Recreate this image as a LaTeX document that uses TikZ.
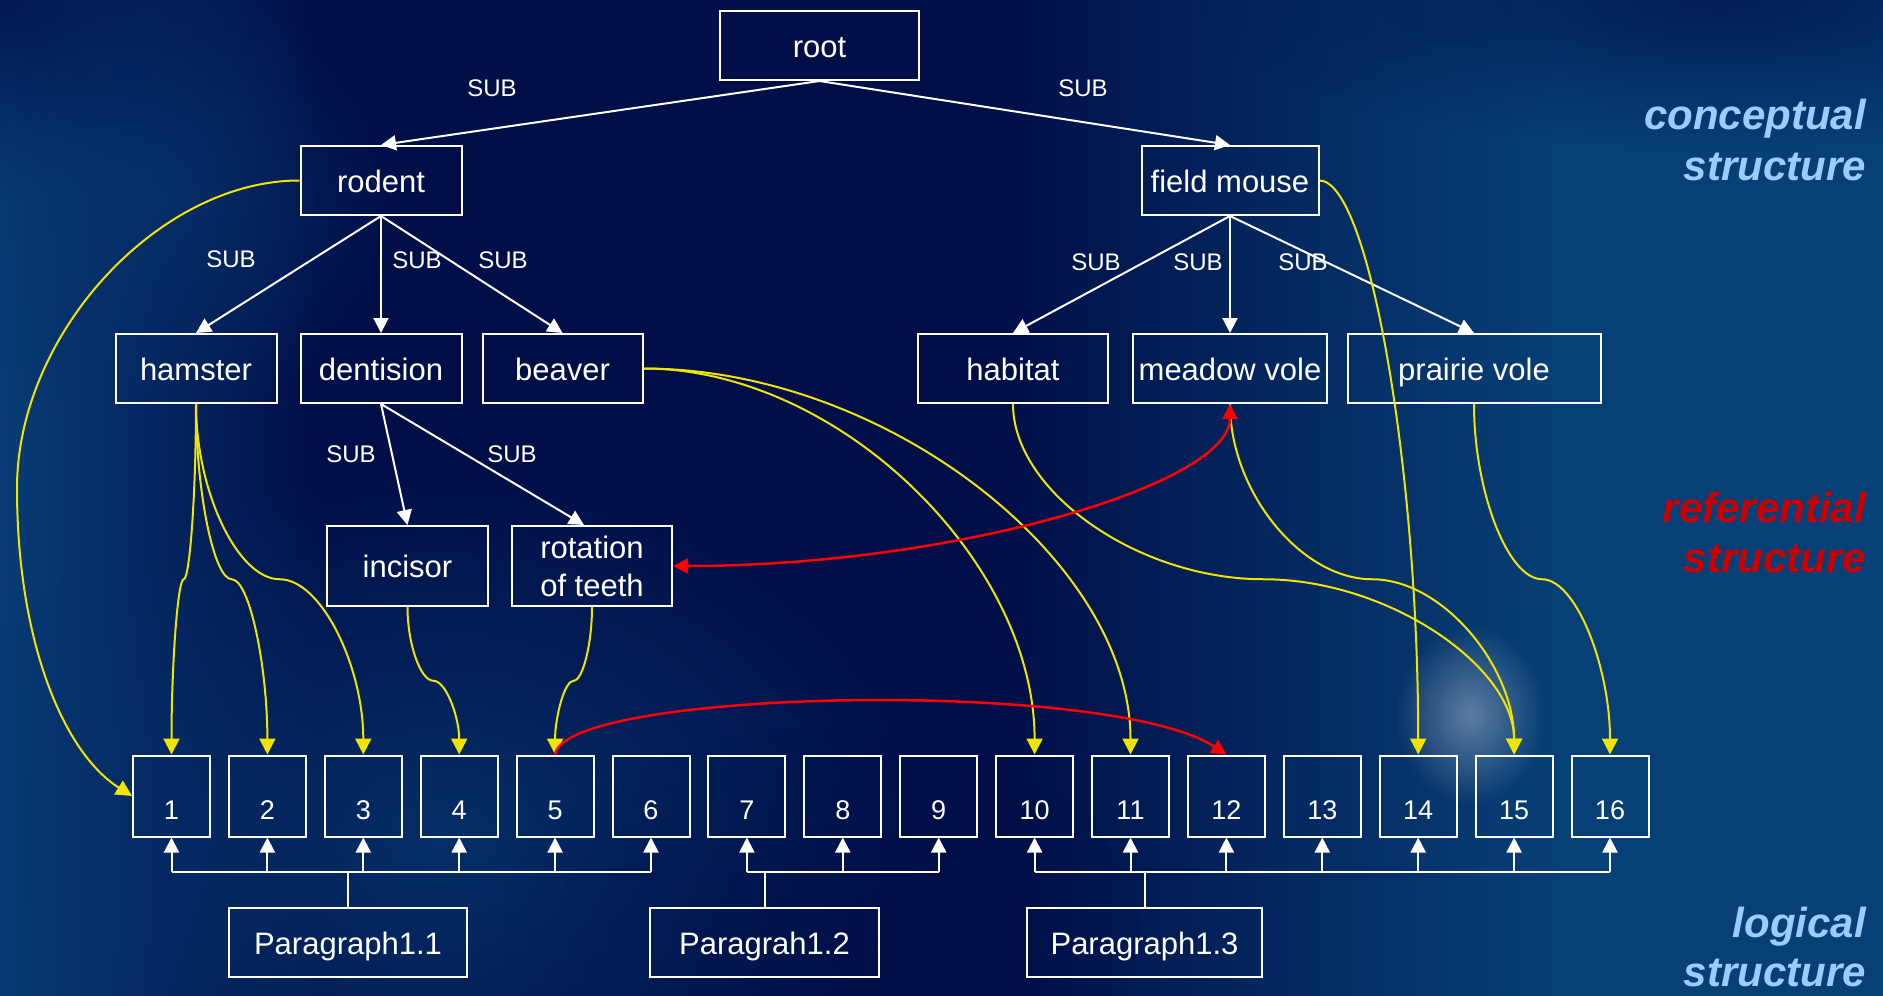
\documentclass[tikz,border=0pt]{standalone}
\usepackage{fontspec}
\setmainfont{Liberation Sans}
\usetikzlibrary{arrows.meta,calc,fadings}

\definecolor{bgdark}{RGB}{1,14,72}
\definecolor{bgedge}{RGB}{8,60,118}
\definecolor{bgright}{RGB}{7,64,118}
\definecolor{bgmid}{RGB}{6,50,106}
\definecolor{linkyellow}{RGB}{240,228,0}
\definecolor{linkred}{RGB}{255,0,0}
\definecolor{labelblue}{RGB}{153,204,255}
\definecolor{labelred}{RGB}{204,0,0}

% soft radial mask used for the background blobs and the glow
\tikzfading[name=softblob, inner color=transparent!0, outer color=transparent!100]

\begin{document}
\begin{tikzpicture}[x=1pt,y=-1pt,
  box/.style={draw=white, line width=2pt, text=white, inner sep=0pt, align=center,
    font=\fontsize{31}{38}\selectfont},
  oneline/.style={text height=23pt, text depth=0pt},
  numbox/.style={draw=white, line width=2pt, text=white, inner sep=0pt,
    minimum width=77pt, minimum height=81pt, text height=46pt, text depth=0pt,
    font=\fontsize{27}{32}\selectfont},
  sublabel/.style={text=white, inner sep=0pt, font=\fontsize{24}{28}\selectfont},
  side/.style={anchor=base east, inner sep=0pt, font=\fontsize{42}{50}\selectfont\bfseries\itshape},
  wire/.style={draw=white, line width=2pt},
  isa/.style={wire, -{Triangle[width=15pt,length=15pt]}},
  ref/.style={draw=linkyellow, line width=2pt, -{Triangle[width=16pt,length=16pt]}},
  xref/.style={draw=linkred, line width=2.5pt},
  % curved connector: vertical out, horizontal through the middle, vertical in
  kink/.style={to path={let \p1=(\tikztostart), \p2=(\tikztotarget) in
    .. controls (\x1,{(3*\y1+\y2)/4}) and ({(3*\x1+\x2)/4},{(\y1+\y2)/2})
    .. ({(\x1+\x2)/2},{(\y1+\y2)/2})
    .. controls ({(\x1+3*\x2)/4},{(\y1+\y2)/2}) and (\x2,{(\y1+3*\y2)/4})
    .. (\p2)}},
  % curved connector: horizontal out, vertical in
  hv/.style={to path={let \p1=(\tikztostart), \p2=(\tikztotarget) in
    .. controls ({(\x1+\x2)/2},\y1) and (\x2,{(\y1+\y2)/2}) .. (\p2)}}
]
\useasboundingbox (0,0) rectangle (1883,996);

% ---------- background ----------
\fill[bgdark] (0,0) rectangle (1883,996);
\shade[left color=bgedge, right color=bgdark] (0,0) rectangle (320,996);
\shade[left color=bgdark, right color=bgright] (1000,0) rectangle (1560,996);
\fill[bgright] (1560,0) rectangle (1883,996);
\fill[bgdark, opacity=0.8, path fading=softblob] (0,0) ellipse (260 and 200);
\fill[bgmid, opacity=0.7, path fading=softblob] (170,200) ellipse (240 and 220);
\fill[bgmid, opacity=0.9, path fading=softblob] (440,840) ellipse (520 and 380);
\fill[bgdark, opacity=0.7, path fading=softblob] (1720,0) ellipse (520 and 150);
\fill[bgdark, opacity=0.5, path fading=softblob] (820,930) ellipse (320 and 200);
\fill[white, opacity=0.35, path fading=softblob] (1470,715) ellipse (75 and 90);

% ---------- conceptual tree ----------
\node[box, oneline, minimum width=199pt, minimum height=69pt] (root) at (819.5,45.5) {root};
\node[box, oneline, minimum width=161pt, minimum height=69pt] (rodent) at (381,180.5) {rodent};
\node[box, oneline, minimum width=177pt, minimum height=69pt] (fm) at (1230,180.5) {field mouse};
\node[box, oneline, minimum width=161pt, minimum height=69pt] (hamster) at (196,368.5) {hamster};
\node[box, oneline, minimum width=161pt, minimum height=69pt] (dent) at (381,368.5) {dentision};
\node[box, oneline, minimum width=160pt, minimum height=69pt] (beaver) at (562.5,368.5) {beaver};
\node[box, oneline, minimum width=190pt, minimum height=69pt] (habitat) at (1013,368.5) {habitat};
\node[box, oneline, minimum width=194pt, minimum height=69pt] (mv) at (1230,368.5) {meadow vole};
\node[box, oneline, minimum width=253pt, minimum height=69pt] (prairie) at (1474,368.5) {prairie vole};
\node[box, oneline, minimum width=161pt, minimum height=80pt] (incisor) at (407.5,566) {incisor};
\node[box, minimum width=160pt, minimum height=80pt] (rot) at (592,566) {rotation\\of teeth};

\draw[isa] (root.south) -- (rodent.north);
\draw[isa] (root.south) -- (fm.north);
\draw[isa] (rodent.south) -- (hamster.north);
\draw[isa] (rodent.south) -- (dent.north);
\draw[isa] (rodent.south) -- (beaver.north);
\draw[isa] (fm.south) -- (habitat.north);
\draw[isa] (fm.south) -- (mv.north);
\draw[isa] (fm.south) -- (prairie.north);
\draw[isa] (dent.south) -- (incisor.north);
\draw[isa] (dent.south) -- ($(rot.north)+(-8,0)$);

\node[sublabel] (s1) at (492,88) {SUB};
\node[sublabel] (s2) at (1083,88) {SUB};
\node[sublabel] (s3) at (231,259) {SUB};
\node[sublabel] (s4) at (417,260) {SUB};
\node[sublabel] (s5) at (503,260) {SUB};
\node[sublabel] (s6) at (1096,262) {SUB};
\node[sublabel] (s7) at (1198,262) {SUB};
\node[sublabel] (s8) at (1303,262) {SUB};
\node[sublabel] (s9) at (351,454) {SUB};
\node[sublabel] (s10) at (512,454) {SUB};

% ---------- logical structure ----------
\foreach \i in {1,...,16}
  \node[numbox] (b\i) at ({171.5+(\i-1)*95.9},796) {\i};

\node[box, oneline, minimum width=238pt, minimum height=69pt] (p1) at (348,942.5) {Paragraph1.1};
\node[box, oneline, minimum width=229pt, minimum height=69pt] (p2) at (764.5,942.5) {Paragrah1.2};
\node[box, oneline, minimum width=235pt, minimum height=69pt] (p3) at (1144.5,942.5) {Paragraph1.3};

\coordinate (bus) at (0,872);
\draw[wire] (b1.south |- bus) -- (b6.south |- bus);
\draw[wire] (b7.south |- bus) -- (b9.south |- bus);
\draw[wire] (b10.south |- bus) -- (b16.south |- bus);
\draw[wire] (p1.north) -- (p1.north |- bus);
\draw[wire] (p2.north) -- (p2.north |- bus);
\draw[wire] (p3.north) -- (p3.north |- bus);
\foreach \i in {1,...,16}
  \draw[isa] (b\i.south |- bus) -- (b\i.south);

% ---------- referential links ----------
\draw[ref] (rodent.west) let \p1=(rodent.west), \p2=(b1.west) in
  .. controls ({(\x1+17pt)/2},\y1) and (17pt,{(3*\y1+\y2)/4})
  .. (17pt,{(\y1+\y2)/2})
  .. controls (17pt,{(\y1+3*\y2)/4}) and ($(b1.west)+(-68,-43)$)
  .. (b1.west);
\draw[ref] (hamster.south) to[kink] (b1.north);
\draw[ref] (hamster.south) to[kink] (b2.north);
\draw[ref] (hamster.south) to[kink] (b3.north);
\draw[ref] (incisor.south) to[kink] (b4.north);
\draw[ref] (rot.south) to[kink] (b5.north);
\draw[ref] (beaver.east) to[hv] (b10.north);
\draw[ref] (beaver.east) to[hv] (b11.north);
\draw[ref] (fm.east) to[hv] (b14.north);
\draw[ref] (habitat.south) to[kink] (b15.north);
\draw[ref] (mv.south) to[kink] (b15.north);
\draw[ref] (prairie.south) to[kink] (b16.north);

\draw[xref, {Triangle[width=15pt,length=15pt]}-{Triangle[width=15pt,length=15pt]}]
  (rot.east) to[hv] (mv.south);
\draw[xref, -{Triangle[width=15pt,length=15pt]}]
  (b5.north) .. controls ($(b5.north)+(10,-66)$) and ($(b12.north)+(-116,-76)$) .. (b12.north);

% ---------- layer captions ----------
\node[side, text=labelblue] (c1) at (1866,129) {conceptual};
\node[side, text=labelblue] (c2) at (1866,180) {structure};
\node[side, text=labelred] (r1) at (1866,522) {referential};
\node[side, text=labelred] (r2) at (1866,572) {structure};
\node[side, text=labelblue] (l1) at (1866,937) {logical};
\node[side, text=labelblue] (l2) at (1866,986) {structure};
\end{tikzpicture}
\end{document}
